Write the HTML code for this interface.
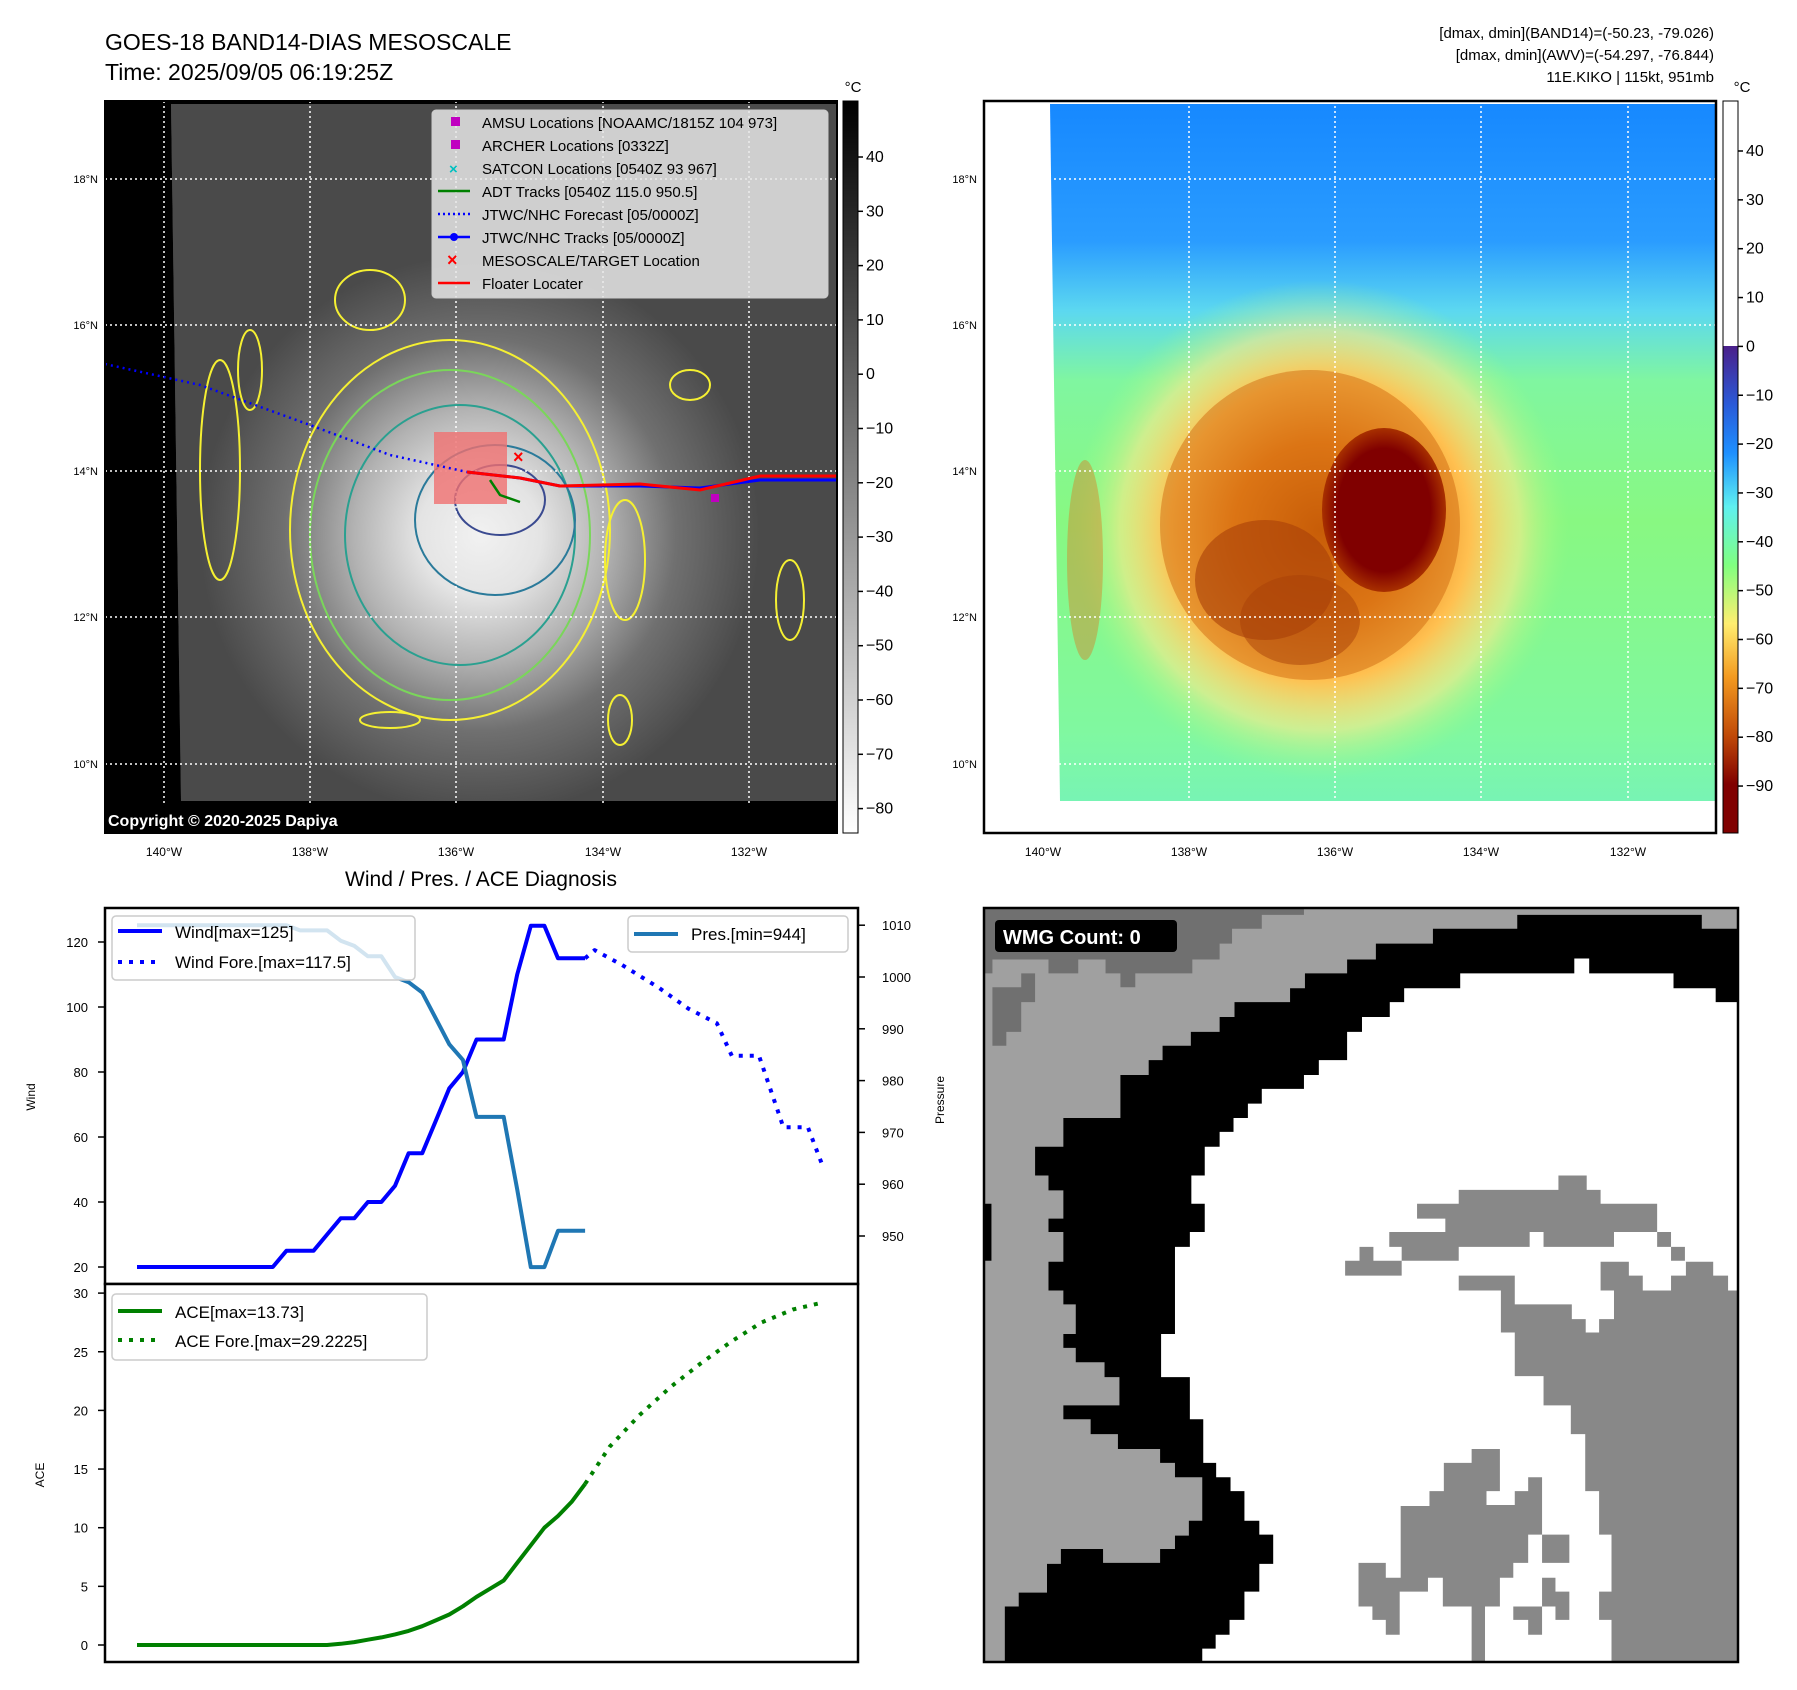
<!DOCTYPE html>
<html><head><meta charset="utf-8"><style>
html,body{margin:0;padding:0;background:#fff}
svg{display:block;font-family:"Liberation Sans","DejaVu Sans",sans-serif}
</style></head><body>
<svg id="fig" width="1797" height="1690" viewBox="0 0 1797 1690" xmlns="http://www.w3.org/2000/svg">
<defs>
 <radialGradient id="gbright" cx="480" cy="535" r="280" gradientUnits="userSpaceOnUse">
  <stop offset="0" stop-color="#fafafa"/><stop offset="0.22" stop-color="#ececec"/><stop offset="0.45" stop-color="#b8b8b8"/><stop offset="0.7" stop-color="#727272"/><stop offset="1" stop-color="#4a4a4a"/>
 </radialGradient>
 <linearGradient id="cbGray" x1="0" y1="0" x2="0" y2="1"><stop offset="0" stop-color="#000"/><stop offset="1" stop-color="#fff"/></linearGradient>
 <linearGradient id="cbCol" x1="0" y1="0" x2="0" y2="1">
  <stop offset="0" stop-color="#4b1f8a"/><stop offset="0.12" stop-color="#2a5ad8"/><stop offset="0.22" stop-color="#1e90ff"/><stop offset="0.33" stop-color="#5ff0f0"/><stop offset="0.45" stop-color="#80ff80"/><stop offset="0.57" stop-color="#ffee70"/><stop offset="0.68" stop-color="#f39a20"/><stop offset="0.8" stop-color="#c04a08"/><stop offset="0.9" stop-color="#800000"/><stop offset="1" stop-color="#800000"/>
 </linearGradient>
 <linearGradient id="rBg" x1="0" y1="101" x2="0" y2="801" gradientUnits="userSpaceOnUse">
  <stop offset="0" stop-color="#1688ff"/><stop offset="0.2" stop-color="#2a9cff"/><stop offset="0.3" stop-color="#5cd8f0"/><stop offset="0.4" stop-color="#80f6a0"/><stop offset="0.6" stop-color="#88f882"/><stop offset="0.9" stop-color="#80f8a0"/><stop offset="1" stop-color="#78f4b4"/>
 </linearGradient>
 <radialGradient id="rStorm" cx="1320" cy="530" r="250" gradientUnits="userSpaceOnUse">
  <stop offset="0" stop-color="#c05000"/><stop offset="0.35" stop-color="#e8801a"/><stop offset="0.6" stop-color="#ffc050"/><stop offset="0.8" stop-color="#ffe98a" stop-opacity="0.6"/><stop offset="1" stop-color="#a0ff80" stop-opacity="0"/>
 </radialGradient>
 <radialGradient id="rEye" cx="0.5" cy="0.5" r="0.5">
  <stop offset="0.75" stop-color="#800000"/><stop offset="1" stop-color="#a83000"/>
 </radialGradient>
</defs>

<text x="105" y="50" font-size="23">GOES-18 BAND14-DIAS MESOSCALE</text>
<text x="105" y="80" font-size="23">Time: 2025/09/05 06:19:25Z</text>
<g font-size="15" text-anchor="end">
 <text x="1714" y="38">[dmax, dmin](BAND14)=(-50.23, -79.026)</text>
 <text x="1714" y="60">[dmax, dmin](AWV)=(-54.297, -76.844)</text>
 <text x="1714" y="82">11E.KIKO | 115kt, 951mb</text>
</g>

<!-- LEFT MAP -->
<g>
 <rect x="105" y="101" width="732" height="732" fill="#000"/>
 <polygon points="171,104 837,104 837,801 181,801" fill="#4a4a4a"/>
 <polygon points="171,104 837,104 837,801 181,801" fill="url(#gbright)" opacity="0.95"/>
 <g fill="none" stroke-width="2">
  <ellipse cx="450" cy="530" rx="160" ry="190" stroke="#f5f032"/>
  <ellipse cx="450" cy="535" rx="140" ry="165" stroke="#7ad65a"/>
  <ellipse cx="460" cy="535" rx="115" ry="130" stroke="#2aa090"/>
  <ellipse cx="495" cy="520" rx="80" ry="75" stroke="#2a7a9a"/>
  <ellipse cx="500" cy="500" rx="45" ry="35" stroke="#3a4a90"/>
  <ellipse cx="220" cy="470" rx="20" ry="110" stroke="#f5f032"/>
  <ellipse cx="625" cy="560" rx="20" ry="60" stroke="#f5f032"/>
  <ellipse cx="690" cy="385" rx="20" ry="15" stroke="#f5f032"/>
  <ellipse cx="790" cy="600" rx="14" ry="40" stroke="#f5f032"/>
  <ellipse cx="390" cy="720" rx="30" ry="8" stroke="#f5f032"/>
  <ellipse cx="620" cy="720" rx="12" ry="25" stroke="#f5f032"/>
  <ellipse cx="370" cy="300" rx="35" ry="30" stroke="#f5f032"/>
  <ellipse cx="250" cy="370" rx="12" ry="40" stroke="#f5f032"/>
 </g>
 <g stroke="#fff" stroke-width="1.5" stroke-dasharray="2 3">
  <line x1="164" y1="101" x2="164" y2="833"/><line x1="310" y1="101" x2="310" y2="833"/><line x1="456" y1="101" x2="456" y2="833"/><line x1="603" y1="101" x2="603" y2="833"/><line x1="749" y1="101" x2="749" y2="833"/>
  <line x1="105" y1="179" x2="837" y2="179"/><line x1="105" y1="325" x2="837" y2="325"/><line x1="105" y1="471" x2="837" y2="471"/><line x1="105" y1="617" x2="837" y2="617"/><line x1="105" y1="764" x2="837" y2="764"/>
 </g>
 <rect x="434" y="432" width="73" height="72" fill="#f07070" opacity="0.8"/>
 <polyline points="105,364 200,385 310,425 390,455 467,472" fill="none" stroke="#0000ff" stroke-width="2.5" stroke-dasharray="2 4"/>
 <polyline points="467,472 520,478 560,486 640,486 700,488 760,480 837,480" fill="none" stroke="#0000ff" stroke-width="3"/>
 <polyline points="467,472 520,478 560,486 640,484 700,490 760,476 837,476" fill="none" stroke="#ff0000" stroke-width="3"/>
 <polyline points="490,480 500,495 520,502" fill="none" stroke="#008000" stroke-width="2.5"/>
 <text x="513" y="463" font-size="18" fill="#ff0000" font-weight="bold">×</text>
 <rect x="711" y="494" width="8" height="8" fill="#c000c0"/>
 <rect x="105" y="804" width="732" height="29" fill="#000"/>
 <text x="108" y="826" font-size="16" font-weight="bold" fill="#fff">Copyright © 2020-2025 Dapiya</text>
 <rect x="105" y="101" width="732" height="732" fill="none" stroke="#000" stroke-width="2"/>
 <g>
  <rect x="432" y="110" width="396" height="188" rx="4" fill="#e6e6e6" fill-opacity="0.85" stroke="#ccc"/>
  <g font-size="15">
   <rect x="451" y="117" width="9" height="9" fill="#c000c0"/><text x="482" y="128">AMSU Locations [NOAAMC/1815Z 104 973]</text>
   <rect x="451" y="140" width="9" height="9" fill="#c000c0"/><text x="482" y="151">ARCHER Locations [0332Z]</text>
   <text x="449" y="174" fill="#00c0c0" font-weight="bold">×</text><text x="482" y="174">SATCON Locations [0540Z 93 967]</text>
   <line x1="438" y1="191" x2="470" y2="191" stroke="#008000" stroke-width="2.5"/><text x="482" y="197">ADT Tracks [0540Z 115.0 950.5]</text>
   <line x1="438" y1="214" x2="470" y2="214" stroke="#0000ff" stroke-width="2.5" stroke-dasharray="2 3"/><text x="482" y="220">JTWC/NHC Forecast [05/0000Z]</text>
   <line x1="438" y1="237" x2="470" y2="237" stroke="#0000ff" stroke-width="2.5"/><circle cx="454" cy="237" r="4" fill="#0000ff"/><text x="482" y="243">JTWC/NHC Tracks [05/0000Z]</text>
   <text x="447" y="266" fill="#ff0000" font-weight="bold" font-size="18">×</text><text x="482" y="266">MESOSCALE/TARGET Location</text>
   <line x1="438" y1="283" x2="470" y2="283" stroke="#ff0000" stroke-width="2.5"/><text x="482" y="289">Floater Locater</text>
  </g>
 </g>
 <g font-size="11" text-anchor="end">
  <text x="98" y="183">18°N</text><text x="98" y="329">16°N</text><text x="98" y="475">14°N</text><text x="98" y="621">12°N</text><text x="98" y="768">10°N</text>
 </g>
 <g font-size="12" text-anchor="middle">
  <text x="164" y="856">140°W</text><text x="310" y="856">138°W</text><text x="456" y="856">136°W</text><text x="603" y="856">134°W</text><text x="749" y="856">132°W</text>
 </g>
</g>
<g>
 <rect x="843" y="101" width="15" height="732" fill="url(#cbGray)" stroke="#000" stroke-width="1"/>
 <text x="853" y="92" font-size="15" text-anchor="middle">°C</text>
 <g id="cb1" font-size="16"></g>
</g>

<!-- RIGHT MAP -->
<g>
 <rect x="984" y="101" width="732" height="732" fill="#fff"/>
 <polygon points="1050,104 1716,104 1716,801 1060,801" fill="url(#rBg)"/>
 <ellipse cx="1320" cy="530" rx="250" ry="250" fill="url(#rStorm)"/>
 <ellipse cx="1310" cy="525" rx="150" ry="155" fill="#d06a10" opacity="0.5"/>
 <ellipse cx="1265" cy="580" rx="70" ry="60" fill="#a84008" opacity="0.6"/>
 <ellipse cx="1300" cy="620" rx="60" ry="45" fill="#a84008" opacity="0.5"/>
 <ellipse cx="1384" cy="510" rx="62" ry="82" fill="url(#rEye)"/>
 <ellipse cx="1085" cy="560" rx="18" ry="100" fill="#e0701a" opacity="0.4"/>
 <g stroke="#fff" stroke-width="1.5" stroke-dasharray="2 3">
  <line x1="1043" y1="101" x2="1043" y2="833"/><line x1="1189" y1="101" x2="1189" y2="833"/><line x1="1335" y1="101" x2="1335" y2="833"/><line x1="1481" y1="101" x2="1481" y2="833"/><line x1="1628" y1="101" x2="1628" y2="833"/>
  <line x1="984" y1="179" x2="1716" y2="179"/><line x1="984" y1="325" x2="1716" y2="325"/><line x1="984" y1="471" x2="1716" y2="471"/><line x1="984" y1="617" x2="1716" y2="617"/><line x1="984" y1="764" x2="1716" y2="764"/>
 </g>
 <rect x="984" y="101" width="732" height="732" fill="none" stroke="#000" stroke-width="2.5"/>
 <g font-size="11" text-anchor="end">
  <text x="977" y="183">18°N</text><text x="977" y="329">16°N</text><text x="977" y="475">14°N</text><text x="977" y="621">12°N</text><text x="977" y="768">10°N</text>
 </g>
 <g font-size="12" text-anchor="middle">
  <text x="1043" y="856">140°W</text><text x="1189" y="856">138°W</text><text x="1335" y="856">136°W</text><text x="1481" y="856">134°W</text><text x="1628" y="856">132°W</text>
 </g>
</g>
<g>
 <rect x="1723" y="101" width="15" height="245" fill="#fff"/>
 <rect x="1723" y="346" width="15" height="487" fill="url(#cbCol)"/>
 <rect x="1723" y="101" width="15" height="732" fill="none" stroke="#000" stroke-width="1"/>
 <text x="1742" y="92" font-size="15" text-anchor="middle">°C</text>
 <g id="cb2" font-size="16"></g>
</g>

<text x="481" y="886" font-size="21" text-anchor="middle">Wind / Pres. / ACE Diagnosis</text>
<g id="chart">
 <rect x="105" y="908" width="753" height="376" fill="#fff" stroke="#000" stroke-width="2.5"/>
 <rect x="105" y="1284" width="753" height="378" fill="#fff" stroke="#000" stroke-width="2.5"/>
 <g id="lines"></g>
 <g id="axes" font-size="13"></g>
 <text transform="translate(35,1097) rotate(-90)" font-size="12" text-anchor="middle">Wind</text>
 <text transform="translate(944,1100) rotate(-90)" font-size="12" text-anchor="middle">Pressure</text>
 <text transform="translate(44,1475) rotate(-90)" font-size="12" text-anchor="middle">ACE</text>
 <g font-size="17">
  <rect x="112" y="916" width="303" height="64" rx="4" fill="#fff" fill-opacity="0.8" stroke="#ccc" stroke-width="1.5"/>
  <line x1="118" y1="931" x2="162" y2="931" stroke="#0000ff" stroke-width="4"/><text x="175" y="938">Wind[max=125]</text>
  <line x1="118" y1="962" x2="162" y2="962" stroke="#0000ff" stroke-width="4" stroke-dasharray="4 7"/><text x="175" y="968">Wind Fore.[max=117.5]</text>
 </g>
 <g font-size="17">
  <rect x="628" y="916" width="220" height="36" rx="4" fill="#fff" fill-opacity="0.8" stroke="#ccc" stroke-width="1.5"/>
  <line x1="634" y1="934" x2="678" y2="934" stroke="#1f77b4" stroke-width="4"/><text x="691" y="940">Pres.[min=944]</text>
 </g>
 <g font-size="17">
  <rect x="112" y="1294" width="315" height="66" rx="4" fill="#fff" fill-opacity="0.8" stroke="#ccc" stroke-width="1.5"/>
  <line x1="118" y1="1311" x2="162" y2="1311" stroke="#008000" stroke-width="4"/><text x="175" y="1318">ACE[max=13.73]</text>
  <line x1="118" y1="1340" x2="162" y2="1340" stroke="#008000" stroke-width="4" stroke-dasharray="4 7"/><text x="175" y="1347">ACE Fore.[max=29.2225]</text>
 </g>
</g>

<g>
 <svg x="984" y="908" width="754" height="754" viewBox="5 8 1520 1522" preserveAspectRatio="none">
  <rect x="5" y="8" width="1520" height="1522" fill="#a0a0a0"/>
  <polygon fill="#707070" points="5,8 650,8 650,22 565,22 565,50 505,50 505,80 480,80 480,112 425,112 425,140 310,140 310,168 280,168 280,140 250,140 250,112 195,112 195,140 135,140 135,112 22,112 22,140 5,140"/>
  <polygon fill="#707070" points="22,168 80,168 80,140 108,140 108,198 80,198 80,258 50,258 50,286 22,286"/>
  <polygon fill="#000" points="1080,22 1452,22 1452,50 1525,50 1525,1530 47,1530 47,1418 75,1418 75,1390 132,1390 132,1332 160,1332 160,1302 245,1302 245,1330 360,1330 360,1302 390,1302 390,1275 418,1275 418,1245 445,1245 445,1157 390,1157 390,1128 360,1128 360,1100 275,1100 275,1070 220,1070 220,1040 165,1040 165,1012 278,1012 278,955 248,955 248,925 190,925 190,896 165,896 165,868 190,868 190,808 165,808 165,780 135,780 135,722 165,722 165,662 135,662 135,635 165,635 165,578 135,578 135,548 108,548 108,490 165,490 165,432 280,432 280,345 337,345 337,315 365,315 365,286 422,286 422,258 480,258 480,228 510,228 510,198 622,198 622,170 652,170 652,140 737,140 737,112 795,112 795,80 910,80 910,50 1080,50"/>
  <rect x="5" y="605" width="15" height="115" fill="#000"/>
  <polygon fill="#fff" points="445,1530 445,1503 472,1503 472,1475 500,1475 500,1445 530,1445 530,1388 560,1388 560,1332 588,1332 588,1273 560,1273 560,1245 530,1245 530,1185 502,1185 502,1157 473,1157 473,1128 447,1128 447,1040 420,1040 420,955 362,955 362,868 390,868 390,692 420,692 420,662 450,662 450,605 423,605 423,548 450,548 450,490 480,490 480,460 508,460 508,432 537,432 537,403 565,403 565,373 650,373 650,345 680,345 680,315 737,315 737,258 767,258 767,228 823,228 823,198 852,198 852,170 965,170 965,140 1195,140 1195,110 1225,110 1225,140 1395,140 1395,170 1480,170 1480,198 1525,198 1525,1530"/>
  <g fill="#888">
   <polygon points="1525,780 1505,780 1505,750 1475,750 1475,722 1420,722 1420,750 1390,750 1390,780 1333,780 1333,750 1305,750 1305,722 1248,722 1248,780 1275,780 1275,838 1245,838 1245,865 1218,865 1218,838 1190,838 1190,808 1075,808 1075,750 962,750 962,780 1047,780 1047,865 1075,865 1075,953 1133,953 1133,1012 1188,1012 1188,1070 1217,1070 1217,1185 1245,1185 1245,1273 1270,1273 1270,1388 1245,1388 1245,1445 1270,1445 1270,1530 1525,1530"/>
   <polygon points="878,605 962,605 962,577 1163,577 1163,548 1220,548 1220,577 1248,577 1248,605 1362,605 1362,662 1275,662 1275,692 1133,692 1133,662 1105,662 1105,692 962,692 962,720 847,720 847,750 733,750 733,720 762,720 762,692 790,692 790,720 847,720 847,692 822,692 822,662 935,662 935,635 878,635"/>
   <polygon points="1362,662 1390,662 1390,692 1418,692 1418,720 1390,720 1390,692 1362,692"/>
   <polygon points="988,1100 1045,1100 1045,1185 1018,1185 1018,1213 1075,1213 1075,1185 1102,1185 1102,1157 1130,1157 1130,1273 1102,1273 1102,1330 1072,1330 1072,1360 1045,1360 1045,1418 1015,1418 1015,1530 988,1530 988,1418 930,1418 930,1360 900,1360 900,1388 843,1388 843,1475 815,1475 815,1445 788,1445 788,1418 760,1418 760,1330 815,1330 815,1360 845,1360 845,1215 903,1215 903,1185 932,1185 932,1128 988,1128"/>
   <polygon points="1130,1273 1185,1273 1185,1330 1130,1330"/>
   <polygon points="1130,1360 1157,1360 1157,1388 1185,1388 1185,1445 1157,1445 1157,1418 1130,1418"/>
   <polygon points="1072,1418 1130,1418 1130,1475 1102,1475 1102,1445 1072,1445"/>
  </g>
 </svg>
 <rect x="984" y="908" width="754" height="754" fill="none" stroke="#000" stroke-width="2.5"/>
 <rect x="995" y="920" width="182" height="32" rx="4" fill="#000"/>
 <text x="1003" y="944" font-size="20" font-weight="bold" fill="#fff">WMG Count: 0</text>
</g>
</svg>
<script>
const obsIdx = [0,1,2,3,4,5,6,7,8,9,10,11,12,13,14,15,16,17,18,19,20,21,22,23,24,25,26,27,28,29,30,31,32,33];
const windObs = [20,20,20,20,20,20,20,20,20,20,20,25,25,25,30,35,35,40,40,45,55,55,65,75,80,90,90,90,110,125,125,115,115,115];
const presObs = [1010,1010,1010,1010,1010,1010,1010,1010,1010,1010,1010,1010,1009,1009,1009,1007,1006,1004,1004,1000,999,997,992,987,984,973,973,973,959,944,944,951,951,951];
const aceObs = [0,0,0,0,0,0,0,0,0,0,0,0,0,0,0,0.1,0.25,0.45,0.65,0.9,1.2,1.6,2.1,2.6,3.3,4.1,4.8,5.5,7.0,8.5,10.0,11.0,12.2,13.73];
const windForeIdx = [33,33.7,35.7,38.4,40.6,42.7,43.8,45.8,47.6,49.4,50.5];
const windFore = [115,117.5,113,106,99.5,95,85,85,63,63,51];
const aceForeIdx = [33,34.8,37,39.3,41.5,43.8,46,48.3,50.5];
const aceFore = [13.73,16.9,19.6,22,24,25.9,27.5,28.6,29.2];
const windTicks = [20,40,60,80,100,120];
const presTicks = [950,960,970,980,990,1000,1010];
const aceTicks = [0,5,10,15,20,25,30];
const cb1Ticks = [40,30,20,10,0,-10,-20,-30,-40,-50,-60,-70,-80];
const cb2Ticks = [40,30,20,10,0,-10,-20,-30,-40,-50,-60,-70,-80,-90];

const NS='http://www.w3.org/2000/svg';
const xOf = k => 137 + k*13.58;
const yW = v => 1267 - (v-20)*3.25;
const yP = p => 1236 - (p-950)*5.18;
const yA = a => 1645 - a*11.73;
const yC1 = v => 157 + (40-v)*5.43;
const yC2 = v => 151 + (40-v)*4.885;
function mk(tag, attrs, parent){const e=document.createElementNS(NS,tag);for(const k in attrs)e.setAttribute(k,attrs[k]);parent.appendChild(e);return e;}
const L=document.getElementById('lines');
function line(xs, ys, color, dash, name){
  const pts = xs.map((x,i)=>xOf(x).toFixed(1)+','+ys[i].toFixed(1)).join(' ');
  const a={points:pts,fill:'none',stroke:color,'stroke-width':4,'stroke-linejoin':'round'};
  if(dash)a['stroke-dasharray']=dash;
  const e=mk('polyline',a,L);
  
  
}
line(obsIdx, windObs.map(yW), '#0000ff', null, 'wind-line');
line(windForeIdx, windFore.map(yW), '#0000ff', '4 7', 'wind-forecast-line');
line(obsIdx, presObs.map(yP), '#1f77b4', null, 'pressure-line');
line(obsIdx, aceObs.map(yA), '#008000', null, 'ace-line');
line(aceForeIdx, aceFore.map(yA), '#008000', '4 7', 'ace-forecast-line');

const A=document.getElementById('axes');
function tick(x1,x2,y,label,tx,anchor,g,name){
  mk('line',{x1:x1,x2:x2,y1:y,y2:y,stroke:'#000','stroke-width':1.5},g);
  const t=mk('text',{x:tx,y:y+5,'text-anchor':anchor},g);t.textContent=label;
  
  
}
windTicks.forEach(v=>tick(98,105,yW(v),v,88,'end',A,'wind-tick-label'));
presTicks.forEach(v=>tick(858,865,yP(v),v,882,'start',A,'pressure-tick-label'));
aceTicks.forEach(v=>tick(98,105,yA(v),v,88,'end',A,'ace-tick-label'));
const C1=document.getElementById('cb1');
cb1Ticks.forEach(v=>tick(858,863,yC1(v),(v<0?'\u2212'+(-v):v),866,'start',C1,'ir-colorbar-label'));
const C2=document.getElementById('cb2');
cb2Ticks.forEach(v=>tick(1738,1743,yC2(v),(v<0?'\u2212'+(-v):v),1746,'start',C2,'awv-colorbar-label'));
</script>
</body></html>
